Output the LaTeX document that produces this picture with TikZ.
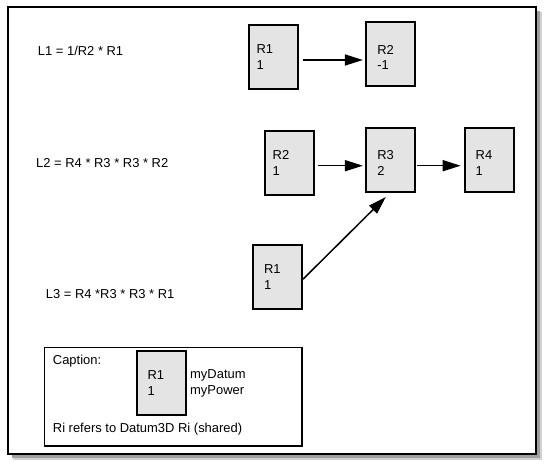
\documentclass[tikz,border=0pt]{standalone}
\usepackage{fontspec}
\setmainfont{Liberation Sans}
\usetikzlibrary{arrows.meta,calc}
\definecolor{boxgray}{HTML}{E4E4E4}
\newcommand{\lowtxt}{\rule{0pt}{15bp}}
\begin{document}
\begin{tikzpicture}[x=1bp,y=-1bp,
  font=\fontsize{13}{16}\selectfont,
  rbox/.style={draw=black, line width=2bp, fill=boxgray, minimum height=64bp,
    inner xsep=11bp, text width=27bp, align=left, anchor=center},
  rboxn/.style={rbox, inner xsep=8bp, text width=33bp},
  arr/.style={line width=1.5bp, -{Triangle[length=18bp,width=11bp]}},
  lbl/.style={anchor=base west, inner sep=0pt}]
\fill[white] (0,0) rectangle (544,464);
\useasboundingbox (0,0) rectangle (544,464);
% outer frame with shadow
\fill[gray!35] (13,12) rectangle (542,460);
\fill[gray!75] (12,11) rectangle (540,458);
\filldraw[fill=white, draw=black, line width=2bp] (8,7.3) rectangle (536,454);
% left formulas
\node[lbl] (L1) at (37.7,55.3) {L1 = 1/R2 * R1};
\node[lbl] (L2) at (36,168) {L2 = R4 * R3 * R3 * R2};
\node[lbl] (L3) at (45.7,298) {L3 = R4 *R3 * R3 * R1};
% boxes
\node[rboxn] (A1) at (273,56.6) {R1\\1};
\node[rbox] (A2) at (390.8,54.5) {\lowtxt R2\\-1};
\node[rboxn] (B2) at (289.2,163.3) {R2\\1};
\node[rbox] (B3) at (390.8,160) {\lowtxt R3\\2};
\node[rbox] (B4) at (489.2,160) {\lowtxt R4\\1};
\node[rbox] (C1) at (277.5,277.2) {R1\\1};
% connectors
\coordinate (s1) at ($(A1.east)+(4,3.4)$);
\draw[arr] (s1) -- ($(A2.west |- s1)+(-2.4,0)$);
\coordinate (s2) at ($(B2.east)+(3,2.4)$);
\draw[arr] (s2) -- ($(B3.west |- s2)+(-2.4,0)$);
\coordinate (s3) at ($(B3.east)+(0.7,5.7)$);
\draw[arr] (s3) -- ($(B4.west |- s3)+(-3,0)$);
\draw[arr] ($(C1.east)+(0,2)$) -- ($(B3.south)+(-5,4)$);
% caption
\draw[line width=1.5bp] (44.5,347.5) rectangle (302,446);
\node[lbl] (cap) at (52.7,364.6) {Caption:};
\node[rbox] (K1) at (161,383.3) {R1\\1};
\node[lbl] (md) at (190,378) {myDatum};
\node[lbl] (mp) at (190,394) {myPower};
\node[lbl] (ri) at (52.7,432.5) {Ri refers to Datum3D Ri (shared)};
\end{tikzpicture}
\end{document}
